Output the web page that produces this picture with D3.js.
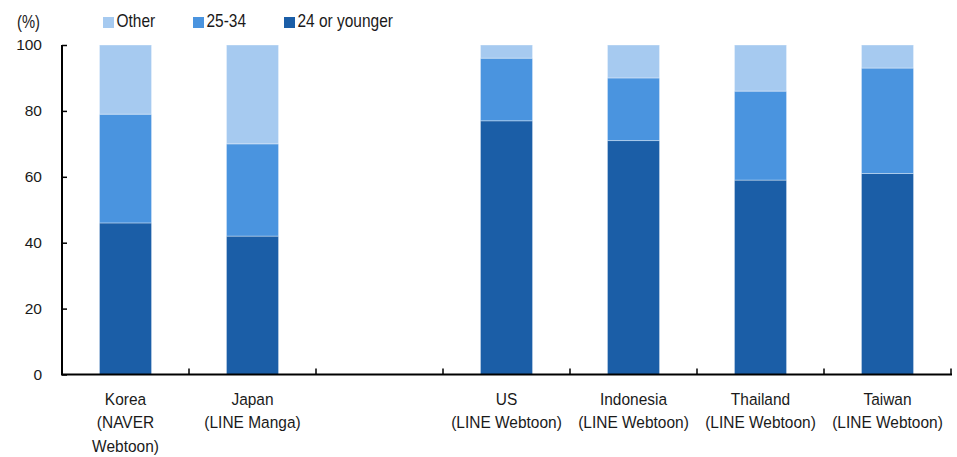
<!DOCTYPE html>
<html><head><meta charset="utf-8">
<script src="https://cdn.jsdelivr.net/npm/d3@7"></script>
<style>
html,body{margin:0;padding:0;background:#fff;}
svg text{font-family:"Liberation Sans",Arial,sans-serif;fill:#1a1a1a;}
</style></head>
<body>
<svg id="chart" width="957" height="457"></svg>
<script>
const categories = [
  ["Korea","(NAVER","Webtoon)"],
  ["Japan","(LINE Manga)"],
  [],
  ["US","(LINE Webtoon)"],
  ["Indonesia","(LINE Webtoon)"],
  ["Thailand","(LINE Webtoon)"],
  ["Taiwan","(LINE Webtoon)"]
];
const seriesNames = ["24 or younger","25-34","Other"];
const young = [46, 42, null, 77, 71, 59, 61];
const age2534 = [33, 28, null, 19, 19, 27, 32];
const other = [21, 30, null, 4, 10, 14, 7];
const yTicks = [0, 20, 40, 60, 80, 100];
const legendNames = ["Other","25-34","24 or younger"];
const colors = ["#1b5ea7", "#4a94df", "#a6caf0"];

const svg = d3.select("#chart");
const mLeft = 62, mRight = 951, mTop = 45, mBottom = 374.5;
const narrow = 0.91;
const keys = categories.map((c,i)=>"c"+i);
const x = d3.scaleBand().domain(keys).range([mLeft, mRight]).padding(0);
const y = d3.scaleLinear().domain([0,100]).range([mBottom, mTop]);
const barW = x.bandwidth()*0.41;

const rows = keys.map((k,i)=>({key:k, "24 or younger":young[i], "25-34":age2534[i], "Other":other[i]}))
  .filter(r=>r["24 or younger"]!=null);
const stack = d3.stack().keys(seriesNames)(rows);

svg.append("g").selectAll("g").data(stack).join("g")
  .attr("fill",(d,i)=>colors[i])
  .selectAll("rect").data(d=>d).join("rect")
  .attr("x",d=>x(d.data.key)+(x.bandwidth()-barW)/2)
  .attr("width",barW)
  .attr("y",d=>y(d[1]))
  .attr("height",d=>y(d[0])-y(d[1]))
  .attr("stroke","rgba(255,255,255,0.35)")
  .attr("stroke-width",1);

// Y axis
const yAxis = svg.append("g").attr("transform",`translate(${mLeft},0)`)
  .call(d3.axisLeft(y).tickValues(yTicks).tickSize(-5).tickPadding(20).tickFormat(d3.format("d")));
yAxis.select(".domain").attr("stroke","#000").attr("stroke-width",2).attr("d",`M0,${mTop}V${mBottom}`);
yAxis.selectAll(".tick line").attr("stroke","#000").attr("stroke-width",1.5);
yAxis.selectAll(".tick text").attr("fill","#1a1a1a")
  .style("font-family",'"Liberation Sans",Arial,sans-serif').style("font-size","15.5px");

// X axis
const xAxis = svg.append("g").attr("transform",`translate(0,${mBottom})`)
  .call(d3.axisBottom(x).tickSize(0).tickFormat(""));
xAxis.select(".domain").attr("stroke","#000").attr("stroke-width",2).attr("d",`M${mLeft-1},0H${mRight+1}`);
const edges = keys.map(k=>x(k)+x.bandwidth());
xAxis.selectAll(".edge").data(edges).join("line").attr("class","edge")
  .attr("x1",d=>d).attr("x2",d=>d).attr("y1",0).attr("y2",-6)
  .attr("stroke","#000").attr("stroke-width",1.5);
xAxis.selectAll(".lbl").data(keys).join("text").attr("class","lbl")
  .attr("text-anchor","middle").style("font-size","17px")
  .attr("transform",d=>`translate(${x(d)+x.bandwidth()/2},30) scale(${narrow},1)`)
  .each(function(d,i){
    d3.select(this).selectAll("tspan").data(categories[i]).join("tspan")
      .attr("x",0).attr("y",(t,j)=>j*24).text(t=>t);
  });

// Unit label
svg.append("text").style("font-size","18px")
  .attr("transform",`translate(17,28) scale(0.82,1)`).text("(%)");

// Legend
const legendX = [103, 193, 284];
const lg = svg.append("g").selectAll("g").data(legendNames).join("g")
  .attr("transform",(d,i)=>`translate(${legendX[i]},17)`);
lg.append("rect").attr("width",11).attr("height",11).attr("fill",(d,i)=>colors[2-i]);
lg.append("text").style("font-size","18px")
  .attr("transform","translate(13.5,10) scale(0.86,1)").text(d=>d);
</script>
</body></html>
